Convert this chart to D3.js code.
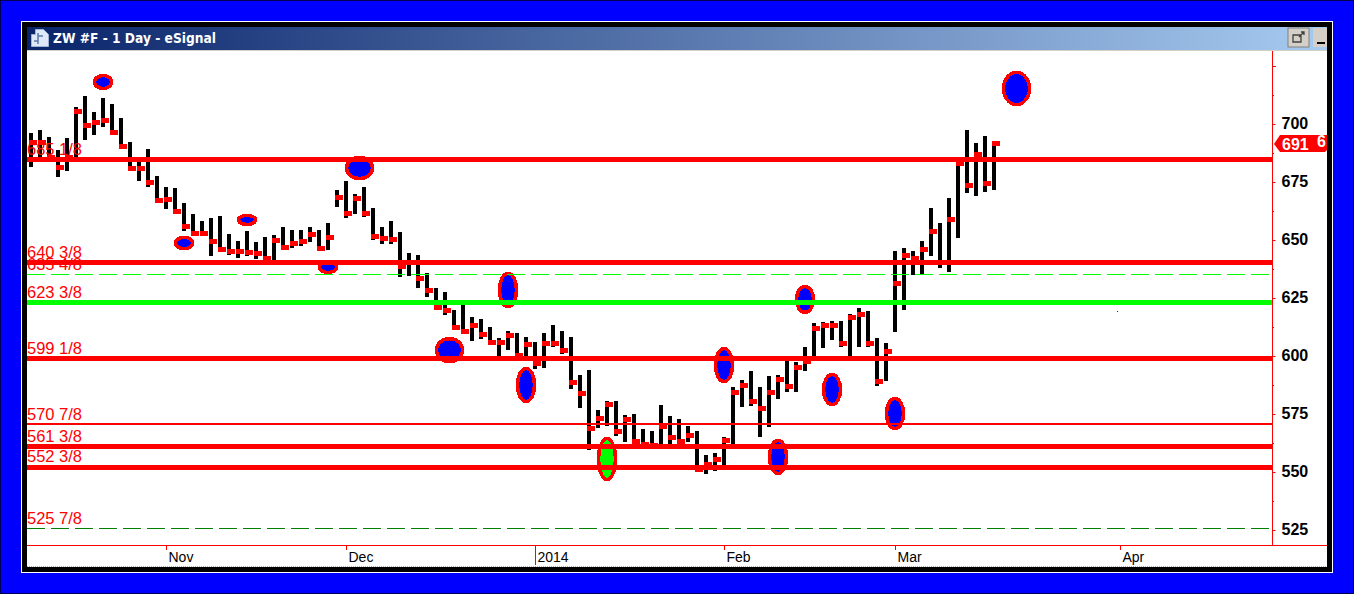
<!DOCTYPE html>
<html><head><meta charset="utf-8">
<script src="https://cdnjs.cloudflare.com/ajax/libs/d3/7.8.5/d3.min.js"></script>
<style>html,body{margin:0;padding:0;background:#00f;overflow:hidden}svg{display:block}</style>
</head><body><svg id="c" width="1354" height="594"></svg>
<script>
const title = "ZW #F - 1 Day - eSignal";
const highs = [696.1,697.4,694.4,688.8,694.0,707.3,712.1,705.2,711.2,708.6,702.6,692.2,683.6,689.2,677.6,672.9,672.4,665.9,661.2,658.2,659.5,660.3,652.6,649.6,653.9,649.1,651.3,652.2,655.6,654.3,654.3,655.6,654.3,657.3,671.6,675.4,669.8,672.9,663.8,655.6,658.2,653.5,644.4,643.5,635.8,629.3,627.6,619.8,622.4,616.8,616.0,612.5,607.8,610.8,609.9,608.2,606.0,609.9,613.4,610.8,608.2,591.8,594.0,576.7,580.6,580.6,574.6,575.0,568.5,567.7,578.9,574.1,572.9,569.8,567.7,557.3,558.2,565.1,586.6,589.7,593.5,586.6,591.4,591.8,597.9,597.4,603.9,614.2,614.7,615.1,615.1,618.1,620.7,619.4,607.8,605.6,645.3,646.6,645.3,649.6,663.8,657.3,668.1,683.2,697.4,691.8,694.8,691.8];
const lows = [681.5,685.8,685.3,677.1,679.7,685.8,693.1,695.3,698.7,695.3,689.2,680.2,675.4,672.9,666.4,663.4,661.6,653.9,651.7,651.7,643.1,645.3,643.5,642.2,643.1,641.8,640.5,641.4,645.7,646.6,647.4,649.1,645.7,645.7,664.2,659.5,661.2,659.9,650.0,648.3,648.3,634.1,634.5,629.3,625.4,620.3,617.7,612.1,609.5,606.5,607.3,605.2,599.6,602.6,600.4,599.6,594.4,594.8,603.9,600.9,585.8,577.6,559.5,569.0,569.8,565.5,562.9,562.1,562.1,561.6,562.1,562.1,562.1,562.9,550.0,549.1,550.4,552.1,562.1,578.0,578.5,565.1,569.4,581.5,584.5,584.5,593.5,600.0,603.5,606.9,603.9,600.0,603.9,603.9,587.1,589.2,610.3,619.8,634.9,635.3,643.1,637.9,636.2,650.9,670.3,669.0,670.7,671.6];
const closes = [692.2,692.2,685.8,681.5,685.8,705.6,699.6,700.9,701.7,696.6,690.5,681.0,681.0,675.0,667.2,667.7,662.5,656.0,653.0,653.0,649.6,646.1,645.3,645.3,644.8,644.4,642.2,650.0,647.0,648.7,649.6,652.6,646.6,651.3,668.5,661.6,668.1,661.6,651.7,650.9,650.4,638.8,640.5,633.6,628.4,621.1,619.8,612.5,610.8,613.4,609.5,606.0,606.0,609.1,600.4,605.2,597.0,605.6,605.6,602.6,588.8,584.1,569.0,573.3,579.3,567.7,572.9,563.4,562.1,561.6,569.8,565.1,563.4,566.0,551.3,553.5,555.6,563.8,584.5,587.5,580.6,577.6,584.5,590.1,587.1,595.3,597.9,612.1,613.4,613.4,605.6,616.8,618.1,605.6,589.2,602.2,631.5,643.5,642.2,646.1,653.9,640.5,659.1,683.2,673.7,687.1,674.6,691.8];

// horizontal levels
const levelValues = [685.125,640.375,635.5,623.375,599.125,570.875,561.375,552.375,525.875];
const levelLabels = ["685 1/8","640 3/8","635 4/8","623 3/8","599 1/8","570 7/8","561 3/8","552 3/8","525 7/8"];
const levelKinds  = ["red","red","dashLight","green","red","thin","red","red","dashDark"];

// hand-drawn ellipses: bar position, top price, bottom price, wide flag
const markBars = [8,36.5,24,17,33,53,46.5,55,64,77,86,89,96,83,109.5];
const markTops = [720.9,685.6,660.6,651.1,640.7,635.6,607.5,594.6,564.4,603.2,630.0,592.0,581.7,563.6,722.2];
const markBots = [715.3,676.5,656.7,646.3,636.0,621.3,597.6,580.4,546.8,589.0,618.8,579.1,568.7,549.4,708.4];
const markKinds = ["blue","blue","blue","blue","blue","blue","blue","blue","green","blue","blue","blue","blue","blue","blue"];
const markWide = [0,1,0,0,0,0,1,0,0,0,0,0,0,0,1];

// axes
const priceMajor = [700,675,650,625,600,575,550,525];
const priceMinor = [725,712.5,687.5,662.5,637.5,612.5,587.5,562.5,537.5];
const monthBars = [15,35,56,77,96,121];
const monthLabels = ["Nov","Dec","2014","Feb","Mar","Apr"];
const lastPrice = 691.375;
const lastLabel = "691";
const lastExtra = "6";
const speckBar = [120.72];
const speckPrice = [619.4];

const svg = d3.select("#c");
const FONT = "'Liberation Sans',Arial,sans-serif";
const x = d3.scaleLinear().domain([0,107]).range([31,994]);
const y = d3.scaleLinear().domain([700,525]).range([124,530]);
const L=27,R=1327,T=51,B=545,AX=1272;

// window chrome
svg.append("rect").attr("width",1354).attr("height",594).attr("fill","#0000ff");
svg.append("rect").attr("x",.5).attr("y",.5).attr("width",1353).attr("height",593).attr("fill","none").attr("stroke","#000050");
svg.append("rect").attr("x",21).attr("y",21).attr("width",1312).attr("height",552).attr("fill","#fff");
svg.append("rect").attr("x",22).attr("y",22).attr("width",1310).attr("height",550).attr("fill","#000");
svg.append("rect").attr("x",L).attr("y",27).attr("width",R-L).attr("height",540).attr("fill","#fff");
const defs=svg.append("defs");
const g=defs.append("linearGradient").attr("id","tb");
g.append("stop").attr("offset",0).attr("stop-color","#0a246a");
g.append("stop").attr("offset",1).attr("stop-color","#a6caf0");
svg.append("rect").attr("x",L).attr("y",27).attr("width",R-L).attr("height",23).attr("fill","url(#tb)");
svg.append("rect").attr("x",L).attr("y",50).attr("width",R-L).attr("height",1).attr("fill","#d4d0c8");
// title icon
svg.append("path").attr("d","M31.5 34.5h4v-5h8l5 5v12h-17z").attr("fill","#dfe8f6").attr("stroke","#9db4d4");
svg.append("path").attr("d","M38 33v11M34 41h4M38 36h5").attr("stroke","#5f7aa8").attr("stroke-width",1.5).attr("fill","none");
svg.append("text").attr("x",53).attr("y",43).attr("fill","#fff").attr("font-family","'DejaVu Sans',sans-serif").attr("font-weight","bold").attr("font-size",13.5)
 .attr("textLength",163).attr("lengthAdjust","spacingAndGlyphs").text(title);
// buttons
svg.append("rect").attr("x",1288).attr("y",28).attr("width",21).attr("height",19).attr("fill","#d4d0c8").attr("stroke","#808080");
svg.append("path").attr("d","M1293 35h8v7h-8zM1299 37l5-5M1301 32h3v3").attr("fill","none").attr("stroke","#404040").attr("stroke-width",1.3);
svg.append("rect").attr("x",1313).attr("y",28).attr("width",14).attr("height",19).attr("fill","#d4d0c8");
svg.append("rect").attr("x",1317).attr("y",42).attr("width",8).attr("height",2).attr("fill","#000");
// bottom strip
svg.append("line").attr("x1",L).attr("x2",R).attr("y1",566.5).attr("y2",566.5).attr("stroke","#b0b0b0").attr("stroke-dasharray","1 1");

// ellipses (under everything)
const marks = markBars.map((b,i)=>({b,t:markTops[i],l:markBots[i],k:markKinds[i],w:markWide[i]}));
svg.append("g").attr("shape-rendering","crispEdges").selectAll("ellipse").data(marks).join("ellipse")
 .attr("cx",d=>x(d.b)).attr("cy",d=>(y(d.t)+y(d.l))/2)
 .attr("rx",d=>d.w?13:8.5).attr("ry",d=>Math.abs(y(d.l)-y(d.t))/2)
 .attr("fill",d=>d.k==="green"?"#00ff00":"#0000ff").attr("stroke","#ff0000").attr("stroke-width",3.5);

// OHLC bars
const bars = d3.range(highs.length).map(i=>({i,h:highs[i],l:lows[i],c:closes[i]}));
svg.append("g").selectAll("rect").data(bars).join("rect")
 .attr("x",d=>x(d.i)-2).attr("width",4).attr("y",d=>Math.round(y(d.h))).attr("height",d=>Math.round(y(d.l))-Math.round(y(d.h))).attr("fill","#000");
svg.append("g").selectAll("rect").data(bars).join("rect")
 .attr("x",d=>x(d.i)-2).attr("width",8).attr("y",d=>Math.round(y(d.c))-2).attr("height",5).attr("fill","#ff0000");
svg.append("g").selectAll("rect").data(speckBar).join("rect")
 .attr("x",d=>Math.round(x(d))).attr("y",(d,i)=>Math.round(y(speckPrice[i]))).attr("width",1).attr("height",1).attr("fill","#800000");

// level labels
const levels = levelValues.map((v,i)=>({v,t:levelLabels[i],k:levelKinds[i]}));
svg.append("g").selectAll("text").data(levels).join("text")
 .attr("x",27).attr("y",d=>Math.floor(y(d.v)-3.5)).attr("fill","#ff0000").attr("font-family",FONT).attr("font-size",16.5).text(d=>d.t);

// level lines
const st={red:["#ff0000",5,null],green:["#00ff00",5,null],thin:["#ff0000",2,null],dashLight:["#00ff00",1,"18 6"],dashDark:["#008000",1,"18 6"]};
const ly0=d=>Math.round(y(d.v)+.1)+(st[d.k][1]%2?.5:0);
svg.append("g").attr("shape-rendering","crispEdges").selectAll("line").data(levels).join("line")
 .attr("x1",L).attr("x2",AX).attr("y1",ly0).attr("y2",ly0)
 .attr("stroke",d=>st[d.k][0]).attr("stroke-width",d=>st[d.k][1]).attr("stroke-dasharray",d=>st[d.k][2]);

// price axis
svg.append("line").attr("x1",AX+.5).attr("x2",AX+.5).attr("y1",T).attr("y2",B).attr("stroke","#ff0000");
const ya=d3.axisRight(y).tickValues(priceMajor).tickSize(3).tickPadding(6).tickSizeOuter(0);
const ygr=svg.append("g").attr("transform",`translate(${AX+.5},0)`).call(ya);
ygr.select(".domain").remove();
ygr.selectAll("line").attr("stroke","#ff0000");
ygr.selectAll("text").attr("fill","#000").attr("font-family",FONT).attr("font-weight","bold").attr("font-size",16).attr("x",9).attr("dy",".27em");
svg.append("g").selectAll("line").data(priceMinor).join("line")
 .attr("x1",AX).attr("x2",d=>d%25===0?AX+4:AX+2).attr("y1",d=>Math.round(y(d))+.5).attr("y2",d=>Math.round(y(d))+.5).attr("stroke","#ff0000");
// last price tag
const ly=y(lastPrice);
svg.append("path").attr("d",`M${AX+2} ${ly}L${AX+8} ${ly-9}H${R}V${ly+6}L${R-2} ${ly+8}H${AX+8}Z`).attr("fill","#ff0000");
svg.append("text").attr("x",AX+10).attr("y",ly+6).attr("fill","#fff").attr("font-family",FONT).attr("font-weight","bold").attr("font-size",16).text(lastLabel);
svg.append("text").attr("x",1317).attr("y",ly+3).attr("fill","#fff").attr("font-family",FONT).attr("font-weight","bold").attr("font-size",16).text(lastExtra);

// time axis
svg.append("line").attr("x1",L).attr("x2",R).attr("y1",B+.5).attr("y2",B+.5).attr("stroke","#ff0000");
const xa=d3.axisBottom(x).tickValues(monthBars).tickSize(5).tickFormat((d,i)=>monthLabels[i]);
const xgr=svg.append("g").attr("transform",`translate(0,${B})`).call(xa);
xgr.select(".domain").remove();
xgr.selectAll("line").attr("stroke","#ff0000").attr("y2",(d,i)=>monthLabels[i]==="2014"?20:5);
xgr.selectAll("text").attr("fill","#000").attr("font-family",FONT).attr("font-size",14)
 .attr("text-anchor","start").attr("x",2).attr("y",7).attr("dy",".71em");
</script></body></html>
